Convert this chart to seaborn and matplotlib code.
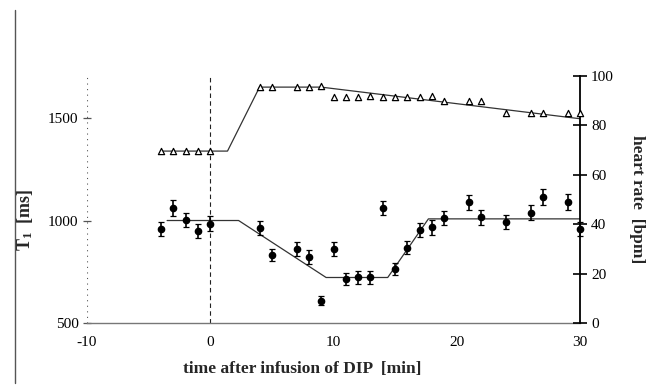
import numpy as np
import pandas as pd
import matplotlib
matplotlib.use("Agg")
import matplotlib.pyplot as plt
import seaborn as sns
from matplotlib.lines import Line2D

# ---- data ----
t1_time = [-4, -3, -2, -1, 0, 4, 5, 7, 8, 9, 10, 11, 12, 13, 14, 15, 16, 17, 18, 19, 21, 22, 24, 26, 27, 29, 30]
t1_ms = [958, 1060, 1002, 951, 984, 964, 833, 861, 820, 609, 861, 714, 722, 722, 1060, 763, 868, 955, 966,
         1012, 1088, 1015, 992, 1039, 1115, 1091, 958]
t1_err = [34, 40, 36, 34, 36, 34, 30, 32, 34, 22, 32, 30, 30, 30, 34, 30, 32, 34, 36, 36, 36, 36, 34, 36, 38, 38, 36]

hr_time = [-4, -3, -2, -1, 0, 4, 5, 7, 8, 9, 10, 11, 12, 13, 14, 15, 16, 17, 18, 19, 21, 22, 24, 26, 27, 29, 30]
hr_bpm = [69.8, 69.8, 69.8, 69.8, 69.8, 95.7, 95.7, 95.7, 95.7, 96.0, 91.6, 91.6, 91.6, 91.9, 91.6, 91.6, 91.6,
          91.6, 91.9, 89.7, 89.9, 89.9, 85.1, 85.1, 85.1, 85.1, 85.1]

t1_fit_time = [-3.5, 2.3, 9.4, 14.4, 17.7, 30]
t1_fit_ms = [1000, 1000, 722, 722, 1008, 1008]

hr_fit_time = [-4, 1.4, 4, 9, 30]
hr_fit_bpm = [69.6, 69.6, 95.5, 95.5, 82.7]

x_ticks = [-10, 0, 10, 20, 30]
left_ticks = [500, 1000, 1500]
right_ticks = [0, 20, 40, 60, 80, 100]

sns.set_theme(style="white")
plt.rcParams['font.family'] = ['Liberation Serif', 'DejaVu Serif']
plt.rcParams['axes.unicode_minus'] = False
plt.rcParams['mathtext.fontset'] = 'custom'
plt.rcParams['mathtext.rm'] = 'Liberation Serif:bold'
plt.rcParams['mathtext.bf'] = 'Liberation Serif:bold'
plt.rcParams['mathtext.it'] = 'Liberation Serif:bold'

fig = plt.figure(figsize=(6.49, 3.87), dpi=100)
ax = fig.add_axes([87/649, 64/387, (580-87)/649, (323-76)/387])
ax2 = ax.twinx()

df_t1 = pd.DataFrame({"t": t1_time, "ms": t1_ms, "err": t1_err})
df_t1fit = pd.DataFrame({"t": t1_fit_time, "ms": t1_fit_ms})
df_hr = pd.DataFrame({"t": hr_time, "bpm": hr_bpm})
df_hrfit = pd.DataFrame({"t": hr_fit_time, "bpm": hr_fit_bpm})

# reference lines
ax.axvline(0, color="#222222", lw=0.8, ls=(0, (4, 3)), zorder=1)
ax.axvline(-10, color="#555555", lw=0.8, ls=(0, (1, 4)), zorder=1)

# T1 fit and data
sns.lineplot(data=df_t1fit, x="t", y="ms", ax=ax, color="#333333", lw=0.9, zorder=2)
eb = ax.errorbar(df_t1["t"], df_t1["ms"], yerr=df_t1["err"], fmt="o", color="black", ms=4.5,
                 elinewidth=1.2, capsize=2.2, capthick=0.9, zorder=3)
for art in eb.lines[0:1] + tuple(eb.lines[1]) + tuple(eb.lines[2]):
    art.set_clip_on(False)

# heart rate fit and data
sns.lineplot(data=df_hrfit, x="t", y="bpm", ax=ax2, color="#333333", lw=0.9, zorder=2)
sns.scatterplot(data=df_hr, x="t", y="bpm", ax=ax2, marker="^", s=20, facecolor="white",
                edgecolor="black", linewidth=0.9, zorder=3, clip_on=False)

ax.set_xlim(-10, 30)
ax.set_ylim(500, 1705)
ax2.set_ylim(0, 100)

ax.set_xticks(x_ticks)
ax.set_yticks(left_ticks)
ax2.set_yticks(right_ticks)

for s in ["top", "left", "right"]:
    ax.spines[s].set_visible(False)
ax.spines["bottom"].set_color("#777777")
ax.spines["bottom"].set_linewidth(1.0)
for s in ["top", "left", "bottom"]:
    ax2.spines[s].set_visible(False)
ax2.spines["right"].set_color("black")
ax2.spines["right"].set_linewidth(1.3)

ax.tick_params(axis="x", direction="inout", length=8, width=0.9, color="#333333",
               labelsize=11, pad=5, labelcolor="black")
ax.tick_params(axis="y", direction="inout", length=6, width=0.9, color="#555555",
               labelsize=11, pad=3, labelcolor="black", left=True)
ax2.tick_params(axis="y", direction="inout", length=10, width=1.2, color="black",
                labelsize=11, pad=3, labelcolor="black", right=True)

ax.set_xlabel("time after infusion of DIP  [min]", fontsize=12.5, fontweight="bold")
ax.xaxis.set_label_coords((302-87)/493, -0.155)
ax.set_ylabel(r"$\mathbf{T_1}$  [ms]", fontsize=13, fontweight="bold")
ax.yaxis.set_label_coords(-0.105, 0.42)
ax2.set_ylabel("heart rate  [bpm]", fontsize=12.5, fontweight="bold", rotation=-90, labelpad=22)

ax.grid(False)
ax2.grid(False)

# scanned page border line at the far left
fig.add_artist(Line2D([15/649, 15/649], [4/387, 377/387], transform=fig.transFigure,
                      color="#555555", lw=1.0))

fig.savefig("out.png", dpi=100)
